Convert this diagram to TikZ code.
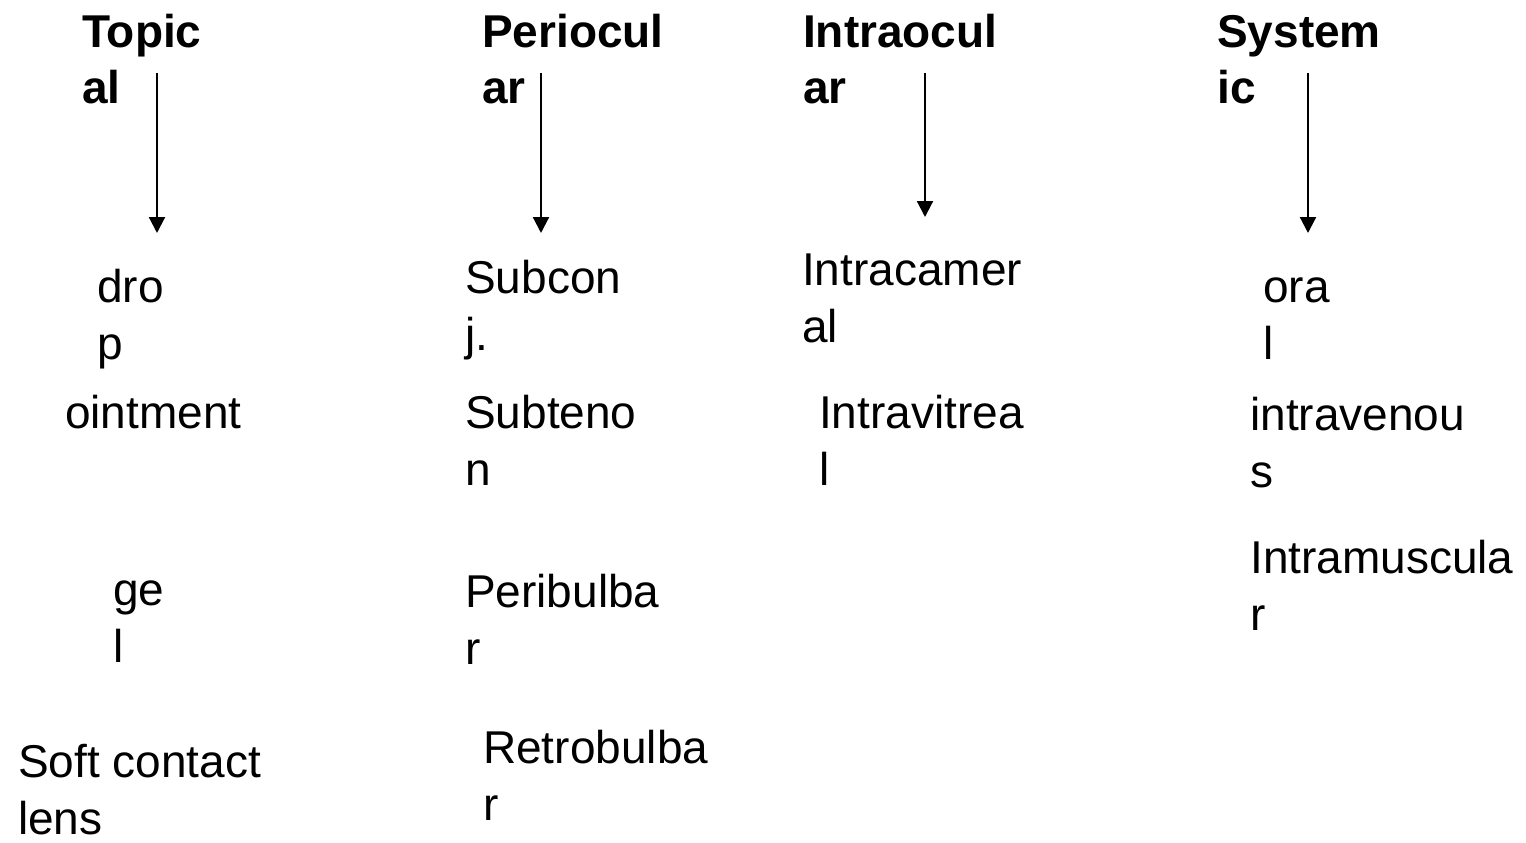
\documentclass[tikz,border=0pt]{standalone}
\usepackage{fontspec}
\setmainfont{Liberation Sans}
\usetikzlibrary{arrows.meta}
\begin{document}
\begin{tikzpicture}[x=1pt,y=-1pt,
  lbl/.style={inner sep=0pt,anchor=base west,align=left,font=\fontsize{46}{57}\selectfont},
  hdr/.style={lbl,font=\fontsize{46}{56}\selectfont\bfseries},
  arr/.style={line width=2.2pt,-{Triangle[width=16pt,length=16pt]}}]
\useasboundingbox[fill=white] (0,0) rectangle (1526,843);
% headers (anchor = baseline of the last line)
\node[hdr] (top) at (82,103) {Topic\\al};
\node[hdr] (peri) at (482,103) {Periocul\\ar};
\node[hdr] (intra) at (803,103) {Intraocul\\ar};
\node[hdr] (sys) at (1217,103) {System\\ic};
% arrows
\coordinate (a1s) at (157,73); \coordinate (a1e) at (157,233);
\coordinate (a2s) at (541,73); \coordinate (a2e) at (541,233);
\coordinate (a3s) at (925,73); \coordinate (a3e) at (925,217);
\coordinate (a4s) at (1308,73); \coordinate (a4e) at (1308,233);
\draw[arr] (a1s) -- (a1e);
\draw[arr] (a2s) -- (a2e);
\draw[arr] (a3s) -- (a3e);
\draw[arr] (a4s) -- (a4e);
% topical
\node[lbl] (drop) at (97,359) {dro\\p};
\node[lbl] (oint) at (65,428) {ointment};
\node[lbl] (gel) at (113,662) {ge\\l};
\node[lbl] (scl) at (18,834) {Soft contact\\lens};
% periocular
\node[lbl] (subc) at (465,350) {Subcon\\j.};
\node[lbl] (subt) at (465,485) {Subteno\\n};
\node[lbl] (peri1) at (465,664) {Peribulba\\r};
\node[lbl] (retro) at (483,820) {Retrobulba\\r};
% intraocular
\node[lbl] (icam) at (802,342) {Intracamer\\al};
\node[lbl] (ivit) at (819,485) {Intravitrea\\l};
% systemic
\node[lbl] (oral) at (1263,359) {ora\\l};
\node[lbl] (iv) at (1250,487) {intravenou\\s};
\node[lbl] (im) at (1250,630) {Intramuscula\\r};
\end{tikzpicture}
\end{document}
